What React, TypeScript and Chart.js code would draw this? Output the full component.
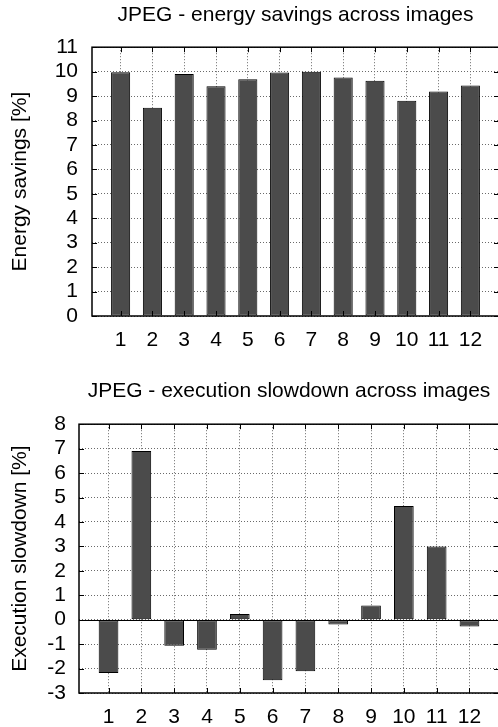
import React, { useEffect, useRef } from "react";
import { Chart, registerables } from "chart.js";

Chart.register(...registerables);

// ---- data ----
const categories = ["1", "2", "3", "4", "5", "6", "7", "8", "9", "10", "11", "12"];
const categoryPositions = [1, 2, 3, 4, 5, 6, 7, 8, 9, 10, 11, 12];
const energySavings = [9.98, 8.52, 9.9, 9.4, 9.69, 9.96, 10.0, 9.76, 9.63, 8.81, 9.19, 9.43];
const executionSlowdown = [-2.18, 6.9, -1.07, -1.23, 0.23, -2.48, -2.11, -0.2, 0.58, 4.65, 3.0, -0.28];
const energyTitle = "JPEG - energy savings across images";
const energyAxisTitle = "Energy savings [%]";
const slowdownTitle = "JPEG - execution slowdown across images";
const slowdownAxisTitle = "Execution slowdown [%]";

const FONT = "'Liberation Sans', Arial, Helvetica, sans-serif";
const FONT_SIZE = 21;
const CANVAS_W = 505;
const PLOT_RIGHT = 499;

const framePlugin = {
  id: "frame",
  beforeDatasetsDraw(chart: any, _args: any, opts: any) {
    if (!opts || !opts.zeroLine) return;
    const { ctx, chartArea, scales } = chart;
    const y = scales.y;
    const py = Math.round(y.getPixelForValue(0)) + 0.5;
    ctx.save();
    ctx.strokeStyle = "#000";
    ctx.lineWidth = 1;
    ctx.beginPath();
    ctx.moveTo(chartArea.left, py);
    ctx.lineTo(chartArea.right, py);
    ctx.stroke();
    ctx.restore();
  },
  afterDatasetsDraw(chart: any) {
    const { ctx, chartArea, scales } = chart;
    const { left, right, top, bottom } = chartArea;
    const x = scales.x;
    const y = scales.y;
    const tl = 5;
    ctx.save();
    ctx.strokeStyle = "#000";
    ctx.lineWidth = 1;
    ctx.beginPath();
    for (const t of y.ticks) {
      const py = Math.round(y.getPixelForValue(t.value)) + 0.5;
      ctx.moveTo(left, py);
      ctx.lineTo(left + tl, py);
      ctx.moveTo(right, py);
      ctx.lineTo(right - tl, py);
    }
    for (const t of x.ticks) {
      const px = Math.round(x.getPixelForValue(t.value)) + 0.5;
      ctx.moveTo(px, bottom);
      ctx.lineTo(px, bottom - tl);
      ctx.moveTo(px, top);
      ctx.lineTo(px, top + tl);
    }
    ctx.stroke();
    ctx.lineWidth = 1.5;
    ctx.strokeRect(left, top, right - left, bottom - top);
    ctx.restore();
  },
};

type PanelProps = {
  title: string;
  axisTitle: string;
  values: number[];
  yMin: number;
  yMax: number;
  height: number;
  top: number;
  titlePadTop: number;
  titlePadBottom: number;
  yAxisWidth: number;
  xAxisHeight: number;
  yTickPad: number;
  xTickPad: number;
  zeroLine: boolean;
};

function BarPanel(p: PanelProps) {
  const ref = useRef<HTMLCanvasElement | null>(null);
  useEffect(() => {
    if (!ref.current) return;
    const font = { family: FONT, size: FONT_SIZE, weight: "normal" as const };
    const gridOpts = { color: "#6a6a6a", lineWidth: 1, drawTicks: false, offset: false };
    const borderOpts = { display: false, dash: [1, 2] };
    const chart = new Chart(ref.current, {
      type: "bar",
      data: {
        datasets: [
          {
            data: categoryPositions.map((pos, i) => ({ x: pos, y: p.values[i] })),
            backgroundColor: "#4b4b4b",
            borderColor: "#000",
            borderWidth: 1,
            borderSkipped: false,
            barPercentage: 0.6,
            categoryPercentage: 1,
          } as any,
        ],
      },
      options: {
        responsive: false,
        animation: false,
        devicePixelRatio: 1,
        layout: { padding: { top: 0, left: 0, right: CANVAS_W - PLOT_RIGHT, bottom: 0 } },
        plugins: {
          legend: { display: false },
          tooltip: { enabled: false },
          title: {
            display: true,
            text: p.title,
            fullSize: false,
            color: "#000",
            font,
            padding: { top: p.titlePadTop, bottom: p.titlePadBottom },
          },
          frame: { zeroLine: p.zeroLine },
        } as any,
        scales: {
          x: {
            type: "linear",
            offset: false,
            min: 0.1,
            max: 12.9,
            afterBuildTicks: (s: any) => {
              s.ticks = categoryPositions.map((v) => ({ value: v }));
            },
            afterFit: (s: any) => {
              s.height = p.xAxisHeight;
            },
            ticks: {
              color: "#000",
              font,
              padding: p.xTickPad,
              maxRotation: 0,
              autoSkip: false,
              callback: (v: any) => categories[categoryPositions.indexOf(Number(v))],
            },
            grid: gridOpts,
            border: borderOpts,
          },
          y: {
            type: "linear",
            min: p.yMin,
            max: p.yMax,
            afterFit: (s: any) => {
              s.width = p.yAxisWidth;
            },
            ticks: { stepSize: 1, autoSkip: false, color: "#000", font, padding: p.yTickPad },
            title: {
              display: true,
              text: p.axisTitle,
              color: "#000",
              font,
              padding: { top: 8, bottom: 0 },
            },
            grid: gridOpts,
            border: borderOpts,
          },
        } as any,
      },
      plugins: [framePlugin as any],
    });
    return () => chart.destroy();
  }, []);
  return (
    <canvas
      ref={ref}
      width={CANVAS_W}
      height={p.height}
      style={{ position: "absolute", left: 0, top: p.top, width: CANVAS_W, height: p.height }}
    />
  );
}

export default function App() {
  return (
    <div
      style={{
        position: "fixed",
        left: 0,
        top: 0,
        width: 498,
        height: 727,
        overflow: "hidden",
        background: "#fff",
      }}
    >
      <BarPanel
        title={energyTitle}
        axisTitle={energyAxisTitle}
        values={energySavings}
        yMin={0}
        yMax={11}
        height={360}
        top={0}
        titlePadTop={3}
        titlePadBottom={19}
        yAxisWidth={92}
        xAxisHeight={44}
        yTickPad={14}
        xTickPad={12}
        zeroLine={false}
      />
      <BarPanel
        title={slowdownTitle}
        axisTitle={slowdownAxisTitle}
        values={executionSlowdown}
        yMin={-3}
        yMax={8}
        height={367}
        top={360}
        titlePadTop={19}
        titlePadBottom={20}
        yAxisWidth={79}
        xAxisHeight={34}
        yTickPad={13}
        xTickPad={12}
        zeroLine={true}
      />
    </div>
  );
}
